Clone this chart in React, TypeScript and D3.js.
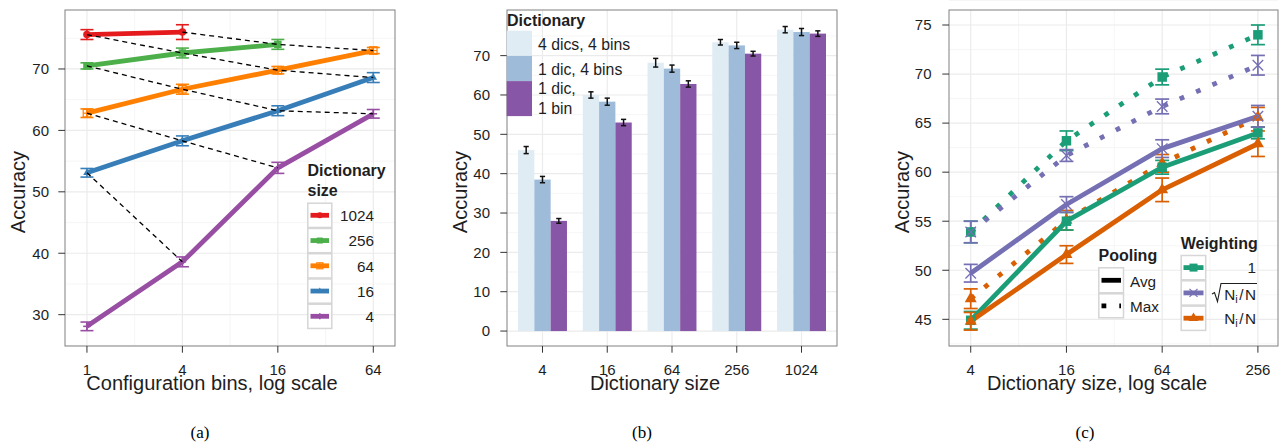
import React from 'react';
import * as d3 from 'd3';

const FONT = '"Liberation Sans", Arial, Helvetica, sans-serif';
const INK = '#1e1e1e';
const GRID = '#EBEBEB';
const GRID_MINOR = '#F4F4F4';
const BORDER = '#808080';
const TOP = 10;
const BOTTOM = 346;

// ---- (a) accuracy vs configuration bins, one line per dictionary size
const binsA = [1, 4, 16, 64];
const acc1024 = [75.6, 76.0];
const acc256 = [70.5, 72.6, 74.0];
const acc64 = [62.8, 66.7, 69.8, 73.0];
const acc16 = [53.1, 58.3, 63.2, 68.6];
const acc4 = [28.1, 38.6, 53.9, 62.7];
const err1024 = [0.8, 1.2];
const err256 = [0.5, 0.8, 0.8];
const err64 = [0.7, 0.8, 0.6, 0.5];
const err16 = [0.7, 0.8, 0.8, 0.8];
const err4 = [0.7, 0.8, 0.9, 0.7];
const yTicksA = [30, 40, 50, 60, 70];

// ---- (b) bars per dictionary size
const dictSizesB = ['4', '16', '64', '256', '1024'];
const acc4dics4bins = [46.0, 60.0, 68.2, 73.4, 76.6];
const acc1dic4bins = [38.5, 58.3, 66.7, 72.6, 76.0];
const acc1dic1bin = [28.0, 53.0, 62.8, 70.5, 75.6];
const err4dics4bins = [0.9, 0.8, 1.1, 0.7, 0.8];
const err1dic4bins = [0.8, 0.9, 0.9, 0.8, 0.9];
const err1dic1bin = [0.6, 0.8, 0.8, 0.6, 0.7];
const yTicksB = [0, 10, 20, 30, 40, 50, 60, 70];

// ---- (c) pooling x weighting
const dictSizesC = [4, 16, 64, 256];
const avgW1 = [44.9, 55.0, 60.5, 64.0];
const avgSqrt = [49.7, 56.7, 62.4, 65.7];
const avgNi = [44.8, 51.6, 58.2, 62.9];
const maxW1 = [53.9, 63.2, 69.7, 74.0];
const maxSqrt = [53.9, 61.7, 66.7, 70.9];
const maxNi = [47.1, 55.1, 60.9, 65.6];
const errAvgW1 = [0.9, 0.9, 0.7, 0.6];
const errAvgSqrt = [0.9, 0.8, 0.9, 1.1];
const errAvgNi = [0.9, 0.9, 1.2, 1.3];
const errMaxW1 = [1.1, 1.0, 0.8, 1.0];
const errMaxSqrt = [1.1, 0.6, 0.75, 1.0];
const errMaxNi = [1.0, 1.0, 0.9, 1.0];
const yTicksC = [45, 50, 55, 60, 65, 70, 75];

const seriesA = [
  { label: '1024', size: 1024, acc: acc1024, err: err1024, color: '#E41A1C', shape: 'circle' },
  { label: '256', size: 256, acc: acc256, err: err256, color: '#4DAF4A', shape: 'square' },
  { label: '64', size: 64, acc: acc64, err: err64, color: '#FF7F00', shape: 'squarePlus' },
  { label: '16', size: 16, acc: acc16, err: err16, color: '#377EB8', shape: 'triangle' },
  { label: '4', size: 4, acc: acc4, err: err4, color: '#984EA3', shape: 'plus' },
];

const barsB = [
  { label: '4 dics, 4 bins', acc: acc4dics4bins, err: err4dics4bins, color: '#E0ECF4' },
  { label: '1 dic, 4 bins', acc: acc1dic4bins, err: err1dic4bins, color: '#9EBCDA' },
  { label: '1 dic,\n1 bin', acc: acc1dic1bin, err: err1dic1bin, color: '#8856A7' },
];

const GREEN = '#1B9E77', LILAC = '#7570B3', RUST = '#D95F02';
const seriesC = [
  { acc: maxW1, err: errMaxW1, color: GREEN, shape: 'square', dotted: true },
  { acc: maxSqrt, err: errMaxSqrt, color: LILAC, shape: 'cross', dotted: true },
  { acc: maxNi, err: errMaxNi, color: RUST, shape: 'triangle', dotted: true },
  { acc: avgW1, err: errAvgW1, color: GREEN, shape: 'square', dotted: false },
  { acc: avgSqrt, err: errAvgSqrt, color: LILAC, shape: 'cross', dotted: false },
  { acc: avgNi, err: errAvgNi, color: RUST, shape: 'triangle', dotted: false },
];

const DOTS = '4.8 13';

function Marker({ shape, x, y, color, s }: { shape: string; x: number; y: number; color: string; s: number }) {
  const h = s / 2;
  if (shape === 'circle') return <circle cx={x} cy={y} r={h} fill={color} />;
  if (shape === 'square') return <rect x={x - h} y={y - h} width={s} height={s} fill={color} />;
  if (shape === 'squarePlus')
    return (
      <g stroke={color} strokeWidth={1.2} fill="none">
        <rect x={x - h} y={y - h} width={s} height={s} />
        <line x1={x - h} x2={x + h} y1={y} y2={y} />
        <line x1={x} x2={x} y1={y - h} y2={y + h} />
      </g>
    );
  if (shape === 'triangle') {
    const p = d3.path();
    p.moveTo(x, y - s * 0.577);
    p.lineTo(x + h, y + s * 0.289);
    p.lineTo(x - h, y + s * 0.289);
    p.closePath();
    return <path d={p.toString()} fill={color} />;
  }
  if (shape === 'plus')
    return (
      <g stroke={color} strokeWidth={1.6}>
        <line x1={x - h} x2={x + h} y1={y} y2={y} />
        <line x1={x} x2={x} y1={y - h} y2={y + h} />
      </g>
    );
  // cross
  return (
    <g stroke={color} strokeWidth={1.3}>
      <line x1={x - h} x2={x + h} y1={y - h} y2={y + h} />
      <line x1={x - h} x2={x + h} y1={y + h} y2={y - h} />
    </g>
  );
}

function ErrorBar({ x, y0, y1, cap, color, w }: { x: number; y0: number; y1: number; cap: number; color: string; w: number }) {
  return (
    <g stroke={color} strokeWidth={w} fill="none">
      <line x1={x} x2={x} y1={y0} y2={y1} />
      <line x1={x - cap} x2={x + cap} y1={y0} y2={y0} />
      <line x1={x - cap} x2={x + cap} y1={y1} y2={y1} />
    </g>
  );
}

function Frame({ left, right, children }: { left: number; right: number; children?: React.ReactNode }) {
  return (
    <g>
      {children}
      <rect x={left} y={TOP} width={right - left} height={BOTTOM - TOP} fill="none" stroke={BORDER} strokeWidth={1} />
    </g>
  );
}

function YAxis({ ticks, y, left, labelRight, titleX }: { ticks: number[]; y: d3.ScaleLinear<number, number>; left: number; labelRight: number; titleX: number }) {
  return (
    <g fontFamily={FONT} fill={INK}>
      {ticks.map((t) => (
        <g key={t}>
          <line x1={left - 6.7} x2={left} y1={y(t)} y2={y(t)} stroke="#333" strokeWidth={1} />
          <text x={labelRight} y={y(t) + 5.3} fontSize={15} textAnchor="end">{t}</text>
        </g>
      ))}
      <text transform={`translate(${titleX},192) rotate(-90)`} fontSize={20} textAnchor="middle">Accuracy</text>
    </g>
  );
}

function XAxis({ ticks, title, titleX }: { ticks: { v: string; x: number }[]; title: string; titleX: number }) {
  return (
    <g fontFamily={FONT} fill={INK}>
      {ticks.map((t) => (
        <g key={t.v}>
          <line x1={t.x} x2={t.x} y1={BOTTOM} y2={BOTTOM + 6.7} stroke="#333" strokeWidth={1} />
          <text x={t.x} y={374.5} fontSize={15} textAnchor="middle">{t.v}</text>
        </g>
      ))}
      <text x={titleX} y={390} fontSize={20} textAnchor="middle">{title}</text>
    </g>
  );
}

function KeyBox({ x, y, w, h }: { x: number; y: number; w: number; h: number }) {
  return <rect x={x + 0.5} y={y + 0.5} width={w - 1} height={h - 1} fill="white" stroke="#D6D6D6" strokeWidth={1.5} />;
}

function PanelA() {
  const left = 65, right = 395;
  const x = d3.scaleLog().base(2).domain([Math.pow(2, -0.46), Math.pow(2, 6.455)]).range([left, right]);
  const y = d3.scaleLinear().domain([24.9, 79.6]).range([BOTTOM, TOP]);
  const minorX = binsA.slice(1).map((b) => b / 2);
  const minorY = [25, ...yTicksA.map((t) => t + 5)];
  const line = d3.line<[number, number]>().x((d) => x(d[0])).y((d) => y(d[1]));

  // dashed lines join configurations with the same dictionary size x bins product
  const groups = d3.groups(
    seriesA.flatMap((s) => s.acc.map((a, i) => ({ prod: s.size * binsA[i], bins: binsA[i], a }))),
    (d) => d.prod,
  ).filter((g) => g[1].length > 1);

  return (
    <g>
      <Frame left={left} right={right}>
        <rect x={left} y={TOP} width={right - left} height={BOTTOM - TOP} fill="white" />
        {minorX.map((m) => <line key={'mx' + m} x1={x(m)} x2={x(m)} y1={TOP} y2={BOTTOM} stroke={GRID_MINOR} strokeWidth={0.8} />)}
        {minorY.map((m) => <line key={'my' + m} x1={left} x2={right} y1={y(m)} y2={y(m)} stroke={GRID_MINOR} strokeWidth={0.8} />)}
        {binsA.map((b) => <line key={'gx' + b} x1={x(b)} x2={x(b)} y1={TOP} y2={BOTTOM} stroke={GRID} strokeWidth={1.2} />)}
        {yTicksA.map((t) => <line key={'gy' + t} x1={left} x2={right} y1={y(t)} y2={y(t)} stroke={GRID} strokeWidth={1.2} />)}
        {seriesA.map((s) => (
          <g key={s.label}>
            {s.acc.map((a, i) => (
              <ErrorBar key={i} x={x(binsA[i])} y0={y(a - s.err[i])} y1={y(a + s.err[i])} cap={6.5} color={s.color} w={1.6} />
            ))}
            <path d={line(s.acc.map((a, i) => [binsA[i], a]))!} fill="none" stroke={s.color} strokeWidth={4.8} strokeLinejoin="round" />
            {s.acc.map((a, i) => (
              <Marker key={'m' + i} shape={s.shape} x={x(binsA[i])} y={y(a)} color={s.color} s={7.5} />
            ))}
          </g>
        ))}
        {groups.map(([prod, pts]) => (
          <path key={prod} d={line(pts.map((p) => [p.bins, p.a]))!} fill="none" stroke="#000" strokeWidth={1.3} strokeDasharray="5 4" />
        ))}
      </Frame>
      <YAxis ticks={yTicksA} y={y} left={left} labelRight={49} titleX={24.5} />
      <XAxis ticks={binsA.map((b) => ({ v: String(b), x: x(b) }))} title="Configuration bins, log scale" titleX={212} />
      <g fontFamily={FONT} fill={INK}>
        <text x={307.5} y={175.5} fontSize={16} fontWeight="bold">Dictionary</text>
        <text x={307.5} y={195.5} fontSize={16} fontWeight="bold">size</text>
        {seriesA.map((s, i) => {
          const ky = 202.7 + i * 25.25;
          return (
            <g key={s.label}>
              <KeyBox x={307.3} y={ky} w={25} h={25.25} />
              <line x1={310.5} x2={329} y1={ky + 12.6} y2={ky + 12.6} stroke={s.color} strokeWidth={4.8} />
              <Marker shape={s.shape} x={319.8} y={ky + 12.6} color={s.color} s={6} />
              <text x={374} y={ky + 18.5} fontSize={15.3} textAnchor="end">{s.label}</text>
            </g>
          );
        })}
      </g>
    </g>
  );
}

function PanelB() {
  const left = 507, right = 837;
  const x = d3.scalePoint<string>().domain(dictSizesB).range([left, right]).padding(0.548);
  const y = d3.scaleLinear().domain([-3.8, 81.6]).range([BOTTOM, TOP]);
  const barW = x.step() * 0.252;
  const minorY = yTicksB.map((t) => t + 5);
  let keyY = 30.7;
  return (
    <g>
      <Frame left={left} right={right}>
        <rect x={left} y={TOP} width={right - left} height={BOTTOM - TOP} fill="white" />
        {minorY.map((m) => <line key={'my' + m} x1={left} x2={right} y1={y(m)} y2={y(m)} stroke={GRID_MINOR} strokeWidth={0.8} />)}
        {dictSizesB.map((c) => <line key={'gx' + c} x1={x(c)!} x2={x(c)!} y1={TOP} y2={BOTTOM} stroke={GRID} strokeWidth={1.2} />)}
        {yTicksB.map((t) => <line key={'gy' + t} x1={left} x2={right} y1={y(t)} y2={y(t)} stroke={GRID} strokeWidth={1.2} />)}
        {barsB.map((b, j) => (
          <g key={b.label}>
            {b.acc.map((a, i) => {
              const cx = x(dictSizesB[i])! + (j - 1) * barW;
              return <rect key={i} x={cx - barW / 2} y={y(a)} width={barW} height={y(0) - y(a)} fill={b.color} />;
            })}
          </g>
        ))}
        {barsB.map((b, j) => (
          <g key={'e' + b.label}>
            {b.acc.map((a, i) => {
              const cx = x(dictSizesB[i])! + (j - 1) * barW;
              return <ErrorBar key={i} x={cx} y0={y(a - b.err[i])} y1={y(a + b.err[i])} cap={2.6} color="#111" w={1.5} />;
            })}
          </g>
        ))}
      </Frame>
      <YAxis ticks={yTicksB} y={y} left={left} labelRight={490} titleX={467} />
      <XAxis ticks={dictSizesB.map((c) => ({ v: c, x: x(c)! }))} title="Dictionary size" titleX={655} />
      <g fontFamily={FONT} fill={INK}>
        <text x={507} y={25.5} fontSize={16} fontWeight="bold">Dictionary</text>
        {barsB.map((b) => {
          const lines = b.label.split('\n');
          const h = lines.length > 1 ? 35 : 25.2;
          const ky = keyY;
          keyY += h;
          return (
            <g key={b.label}>
              <rect x={506.7} y={ky} width={25.3} height={h} fill={b.color} />
              {lines.map((l, k) => (
                <text key={k} x={538} y={ky + (lines.length > 1 ? 13 + k * 20 : 18.8)} fontSize={15.8}>{l}</text>
              ))}
            </g>
          );
        })}
      </g>
    </g>
  );
}

function PanelC() {
  const left = 949, right = 1278;
  const x = d3.scaleLog().base(2).domain([Math.pow(2, 1.546), Math.pow(2, 8.42)]).range([left, right]);
  const y = d3.scaleLinear().domain([42.28, 76.53]).range([BOTTOM, TOP]);
  const minorX = dictSizesC.slice(1).map((b) => b / 2);
  const minorY = [42.5, ...yTicksC.map((t) => t + 2.5)];
  const line = d3.line<number>().x((_, i) => x(dictSizesC[i])).y((d) => y(d));
  const weightKeys = [
    { color: GREEN, shape: 'square', s: 8 },
    { color: LILAC, shape: 'cross', s: 8 },
    { color: RUST, shape: 'triangle', s: 10 },
  ];
  return (
    <g>
      <Frame left={left} right={right}>
        <rect x={left} y={TOP} width={right - left} height={BOTTOM - TOP} fill="white" />
        {minorX.map((m) => <line key={'mx' + m} x1={x(m)} x2={x(m)} y1={TOP} y2={BOTTOM} stroke={GRID_MINOR} strokeWidth={0.8} />)}
        {minorY.map((m) => <line key={'my' + m} x1={left} x2={right} y1={y(m)} y2={y(m)} stroke={GRID_MINOR} strokeWidth={0.8} />)}
        {dictSizesC.map((b) => <line key={'gx' + b} x1={x(b)} x2={x(b)} y1={TOP} y2={BOTTOM} stroke={GRID} strokeWidth={1.2} />)}
        {yTicksC.map((t) => <line key={'gy' + t} x1={left} x2={right} y1={y(t)} y2={y(t)} stroke={GRID} strokeWidth={1.2} />)}
        {seriesC.map((s, k) => (
          <g key={'e' + k}>
            {s.acc.map((a, i) => (
              <ErrorBar key={i} x={x(dictSizesC[i])} y0={y(a - s.err[i])} y1={y(a + s.err[i])} cap={7} color={s.color} w={1.7} />
            ))}
          </g>
        ))}
        {seriesC.map((s, k) => (
          <path key={'l' + k} d={line(s.acc)!} fill="none" stroke={s.color} strokeWidth={4.8}
            strokeDasharray={s.dotted ? DOTS : undefined} strokeLinejoin="round" />
        ))}
        {seriesC.map((s, k) => (
          <g key={'p' + k}>
            {s.acc.map((a, i) => (
              <Marker key={i} shape={s.shape} x={x(dictSizesC[i])} y={y(a)} color={s.color}
                s={s.shape === 'triangle' ? 12 : s.shape === 'cross' ? 10.5 : 9.5} />
            ))}
          </g>
        ))}
      </Frame>
      <YAxis ticks={yTicksC} y={y} left={left} labelRight={931.5} titleX={909} />
      <XAxis ticks={dictSizesC.map((b) => ({ v: String(b), x: x(b) }))} title="Dictionary size, log scale" titleX={1097} />
      <g fontFamily={FONT} fill={INK}>
        <text x={1098.5} y={261} fontSize={16} fontWeight="bold">Pooling</text>
        <KeyBox x={1098.3} y={267.3} w={25.7} h={26} />
        <line x1={1101.5} x2={1121} y1={280.3} y2={280.3} stroke="#000" strokeWidth={4.8} />
        <text x={1130} y={286.5} fontSize={15.3}>Avg</text>
        <KeyBox x={1098.3} y={293.3} w={25.7} h={25} />
        <line x1={1101.5} x2={1121} y1={305.8} y2={305.8} stroke="#000" strokeWidth={4.8} strokeDasharray={DOTS} />
        <text x={1130} y={311.5} fontSize={15.3}>Max</text>

        <text x={1180.7} y={249} fontSize={16} fontWeight="bold">Weighting</text>
        {weightKeys.map((w, i) => {
          const ky = 255 + i * 25.3;
          return (
            <g key={i}>
              <KeyBox x={1180.7} y={ky} w={25.5} h={25.3} />
              <line x1={1183.5} x2={1203.5} y1={ky + 12.6} y2={ky + 12.6} stroke={w.color} strokeWidth={4.8} />
              <Marker shape={w.shape} x={1193.5} y={ky + 12.6} color={w.color} s={w.s} />
            </g>
          );
        })}
        <text x={1256} y={273} fontSize={15.3} textAnchor="end">1</text>
        <path d="M1212,294 L1214.5,292.5 L1217.5,301.5 L1221,283.5 L1257,283.5" fill="none" stroke={INK} strokeWidth={1.1} />
        <text x={1256} y={299.5} fontSize={15.3} textAnchor="end">
          <tspan>N</tspan><tspan dy={3} fontSize={11}>i</tspan><tspan dy={-3} dx={1.5}>/</tspan><tspan dx={1.5}>N</tspan>
        </text>
        <text x={1256} y={323.5} fontSize={15.3} textAnchor="end">
          <tspan>N</tspan><tspan dy={3} fontSize={11}>i</tspan><tspan dy={-3} dx={1.5}>/</tspan><tspan dx={1.5}>N</tspan>
        </text>
      </g>
    </g>
  );
}

export default function App() {
  return (
    <svg width={1283} height={446} viewBox="0 0 1283 446"
      style={{ position: 'absolute', left: 0, top: 0, background: 'white' }}>
      <rect width={1283} height={446} fill="white" />
      <PanelA />
      <PanelB />
      <PanelC />
      <g fontFamily='"Liberation Serif", "Times New Roman", serif' fontSize={17} fill="#000" textAnchor="middle">
        <text x={200} y={438}>(a)</text>
        <text x={642} y={438}>(b)</text>
        <text x={1085} y={438}>(c)</text>
      </g>
    </svg>
  );
}
